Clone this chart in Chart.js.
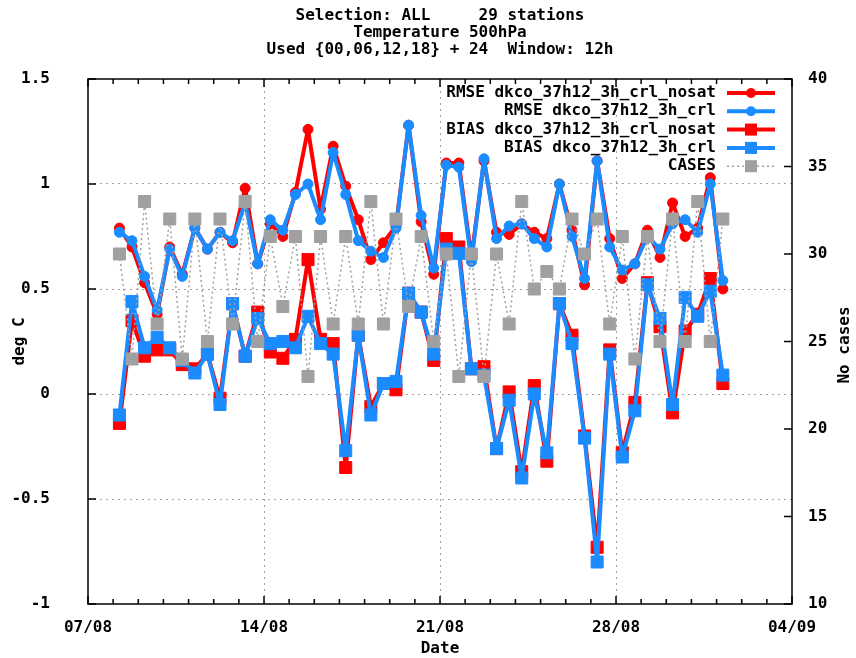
<!DOCTYPE html>
<html>
<head>
<meta charset="utf-8">
<title>Temperature 500hPa</title>
<script src="https://cdn.jsdelivr.net/npm/chart.js@4.4.0/dist/chart.umd.min.js"></script>
<style>
  html, body { margin: 0; padding: 0; background: #fff; }
  #wrap { width: 856px; height: 658px; }
</style>
</head>
<body>
<div id="wrap"><canvas id="verifChart" width="856" height="658"></canvas></div>
<script>
// valores (um ponto a cada 12h, começando em 08/08 06h)
const firstDay = 1.25;   // dias depois de 07/08 00h
const stepDay = 0.5;

const titleLines = [
  'Selection: ALL     29 stations',
  'Temperature 500hPa',
  'Used {00,06,12,18} + 24  Window: 12h'
];

const seriesLabels = [
  'RMSE dkco_37h12_3h_crl_nosat',
  'RMSE dkco_37h12_3h_crl',
  'BIAS dkco_37h12_3h_crl_nosat',
  'BIAS dkco_37h12_3h_crl',
  'CASES'
];

const rmseNosat = [0.79, 0.70, 0.53, 0.38, 0.70, 0.57, 0.79, 0.69, 0.77, 0.72,
  0.98, 0.62, 0.81, 0.75, 0.96, 1.26, 0.88, 1.18, 0.99, 0.83,
  0.64, 0.72, 0.80, 1.28, 0.82, 0.57, 1.10, 1.10, 0.65, 1.11,
  0.77, 0.76, 0.81, 0.77, 0.74, 1.00, 0.78, 0.52, 1.11, 0.74,
  0.55, 0.62, 0.78, 0.65, 0.91, 0.75, 0.79, 1.03, 0.50];

const rmseCrl = [0.77, 0.73, 0.56, 0.40, 0.69, 0.56, 0.79, 0.69, 0.77, 0.73,
  0.91, 0.62, 0.83, 0.78, 0.95, 1.00, 0.83, 1.15, 0.95, 0.73,
  0.68, 0.65, 0.79, 1.28, 0.85, 0.60, 1.09, 1.08, 0.63, 1.12,
  0.74, 0.80, 0.81, 0.74, 0.70, 1.00, 0.75, 0.55, 1.11, 0.70,
  0.59, 0.62, 0.75, 0.69, 0.81, 0.83, 0.77, 1.00, 0.54];

const biasNosat = [-0.14, 0.35, 0.18, 0.21, 0.21, 0.14, 0.12, 0.19, -0.02, 0.43,
  0.18, 0.39, 0.20, 0.17, 0.26, 0.64, 0.26, 0.24, -0.35, 0.28,
  -0.06, 0.05, 0.02, 0.48, 0.39, 0.16, 0.74, 0.70, 0.12, 0.13,
  -0.26, 0.01, -0.37, 0.04, -0.32, 0.43, 0.28, -0.20, -0.73, 0.21,
  -0.28, -0.04, 0.53, 0.32, -0.09, 0.30, 0.38, 0.55, 0.05];

const biasCrl = [-0.10, 0.44, 0.22, 0.27, 0.22, 0.16, 0.10, 0.19, -0.05, 0.43,
  0.18, 0.36, 0.24, 0.25, 0.22, 0.37, 0.24, 0.19, -0.27, 0.28,
  -0.10, 0.05, 0.06, 0.48, 0.39, 0.19, 0.69, 0.67, 0.12, 0.09,
  -0.26, -0.03, -0.40, 0.00, -0.28, 0.43, 0.24, -0.21, -0.80, 0.19,
  -0.30, -0.08, 0.52, 0.36, -0.05, 0.46, 0.37, 0.49, 0.09];

const cases = [30, 24, 33, 26, 32, 24, 32, 25, 32, 26,
  33, 25, 31, 27, 31, 23, 31, 26, 31, 26,
  33, 26, 32, 27, 31, 25, 30, 23, 30, 23,
  30, 26, 33, 28, 29, 28, 32, 30, 32, 26,
  31, 24, 31, 25, 32, 25, 33, 25, 32];

const FONT = 'DejaVu Sans Mono';
const RED = '#ff0000';
const BLUE = '#1a8cff';
const GRAY = '#a0a0a0';

function toPoints(values) {
  return values.map((v, i) => ({ x: firstDay + i * stepDay, y: v }));
}

// rótulo dd/mm a partir de dias depois de 07/08
function dayLabel(d) {
  let day = 7 + d, month = 8;
  if (day > 31) { day -= 31; month = 9; }
  return String(day).padStart(2, '0') + '/' + String(month).padStart(2, '0');
}

function lineSet(label, values, color, style, radius, order) {
  return {
    label: label,
    data: toPoints(values),
    borderColor: color,
    backgroundColor: color,
    borderWidth: 4,
    borderJoinStyle: 'round',
    borderCapStyle: 'round',
    pointStyle: style,
    pointRadius: radius,
    pointBackgroundColor: color,
    pointBorderColor: color,
    pointBorderWidth: 1,
    tension: 0,
    yAxisID: 'y',
    order: order
  };
}

// moldura, marcas internas, titulo e legenda estilo gnuplot
const gnuplotDecor = {
  id: 'gnuplotDecor',
  afterDraw(chart) {
    const { ctx, chartArea: a, scales } = chart;
    ctx.save();
    ctx.setLineDash([]);
    ctx.strokeStyle = '#000';
    ctx.lineWidth = 1.5;
    ctx.strokeRect(a.left, a.top, a.right - a.left, a.bottom - a.top);

    ctx.beginPath();
    for (let d = 0; d <= 28; d++) {
      const px = scales.x.getPixelForValue(d);
      const len = d % 7 === 0 ? 8 : 5;
      ctx.moveTo(px, a.bottom); ctx.lineTo(px, a.bottom - len);
      ctx.moveTo(px, a.top); ctx.lineTo(px, a.top + len);
    }
    scales.y.ticks.forEach(t => {
      const py = scales.y.getPixelForValue(t.value);
      ctx.moveTo(a.left, py); ctx.lineTo(a.left + 8, py);
    });
    scales.y2.ticks.forEach(t => {
      const py = scales.y2.getPixelForValue(t.value);
      ctx.moveTo(a.right, py); ctx.lineTo(a.right - 8, py);
    });
    ctx.stroke();

    ctx.fillStyle = '#000';
    ctx.font = 'bold 16px "' + FONT + '"';
    ctx.textAlign = 'center';
    ctx.textBaseline = 'middle';
    titleLines.forEach((t, i) => ctx.fillText(t, 440, 16 + i * 17));

    // titulo do eixo da direita
    ctx.save();
    ctx.translate(845, 345);
    ctx.rotate(-Math.PI / 2);
    ctx.fillText('No cases', 0, 0);
    ctx.restore();

    // legenda
    const textRight = 716, x0 = 727, x1 = 775;
    chart.data.datasets.forEach((ds, i) => {
      const yy = 93 + i * 18.3;
      ctx.textAlign = 'right';
      ctx.fillStyle = '#000';
      ctx.fillText(ds.label, textRight, yy);
      ctx.strokeStyle = ds.borderColor;
      ctx.lineWidth = ds.borderWidth;
      ctx.setLineDash(ds.borderDash || []);
      ctx.beginPath();
      ctx.moveTo(x0, yy); ctx.lineTo(x1, yy);
      ctx.stroke();
      ctx.setLineDash([]);
      ctx.fillStyle = ds.pointBackgroundColor;
      const cx = (x0 + x1) / 2;
      if (ds.pointStyle === 'circle') {
        ctx.beginPath();
        ctx.arc(cx, yy, ds.pointRadius, 0, Math.PI * 2);
        ctx.fill();
      } else {
        const s = ds.pointRadius * Math.SQRT1_2;
        ctx.fillRect(cx - s, yy - s, 2 * s, 2 * s);
      }
    });
    ctx.restore();
  }
};

const canvas = document.getElementById('verifChart');
const ctx = canvas.getContext('2d');

new Chart(ctx, {
  type: 'line',
  data: {
    datasets: [
      lineSet(seriesLabels[0], rmseNosat, RED, 'circle', 5, 4),
      lineSet(seriesLabels[1], rmseCrl, BLUE, 'circle', 5, 3),
      lineSet(seriesLabels[2], biasNosat, RED, 'rect', 8.5, 2),
      lineSet(seriesLabels[3], biasCrl, BLUE, 'rect', 8.5, 1),
      {
        label: seriesLabels[4],
        data: toPoints(cases),
        borderColor: GRAY,
        backgroundColor: GRAY,
        borderWidth: 1.5,
        borderDash: [2, 3],
        pointStyle: 'rect',
        pointRadius: 8.5,
        pointBackgroundColor: GRAY,
        pointBorderColor: GRAY,
        pointBorderWidth: 1,
        tension: 0,
        yAxisID: 'y2',
        order: 0
      }
    ]
  },
  options: {
    responsive: false,
    animation: false,
    events: [],
    layout: { padding: { top: 79, left: 0, right: 0, bottom: 0 } },
    plugins: {
      legend: { display: false },
      title: { display: false },
      tooltip: { enabled: false }
    },
    scales: {
      x: {
        type: 'linear',
        position: 'bottom',
        min: 0,
        max: 28,
        afterFit: s => { s.height = 54; },
        ticks: {
          stepSize: 1,
          autoSkip: false,
          maxRotation: 0,
          padding: 14,
          color: '#000',
          font: { family: FONT, size: 16, weight: 'bold' },
          callback: v => (v % 7 === 0 ? dayLabel(v) : '')
        },
        grid: {
          drawTicks: false,
          lineWidth: 1,
          color: c => (c.tick && c.tick.value % 7 === 0 && c.tick.value > 0 && c.tick.value < 28) ? GRAY : 'rgba(0,0,0,0)'
        },
        border: { display: false, dash: [2, 4] },
        title: {
          display: true,
          text: 'Date',
          color: '#000',
          font: { family: FONT, size: 16, weight: 'bold' },
          padding: { top: 0, bottom: 0 }
        }
      },
      y: {
        position: 'left',
        min: -1,
        max: 1.5,
        afterFit: s => { s.width = 88; },
        ticks: {
          stepSize: 0.5,
          padding: 38,
          color: '#000',
          font: { family: FONT, size: 16, weight: 'bold' },
          callback: v => String(Math.round(v * 10) / 10)
        },
        grid: {
          drawTicks: false,
          lineWidth: 1,
          color: c => (c.tick && c.tick.value > -1 && c.tick.value < 1.5) ? GRAY : 'rgba(0,0,0,0)'
        },
        border: { display: false, dash: [2, 4] },
        title: {
          display: true,
          text: 'deg C',
          color: '#000',
          font: { family: FONT, size: 16, weight: 'bold' },
          padding: { top: 10, bottom: 0 }
        }
      },
      y2: {
        position: 'right',
        min: 10,
        max: 40,
        afterFit: s => { s.width = 64; },
        ticks: {
          stepSize: 5,
          padding: 16,
          color: '#000',
          font: { family: FONT, size: 16, weight: 'bold' }
        },
        grid: { drawOnChartArea: false, drawTicks: false },
        border: { display: false }
      }
    }
  },
  plugins: [gnuplotDecor]
});
</script>
</body>
</html>
